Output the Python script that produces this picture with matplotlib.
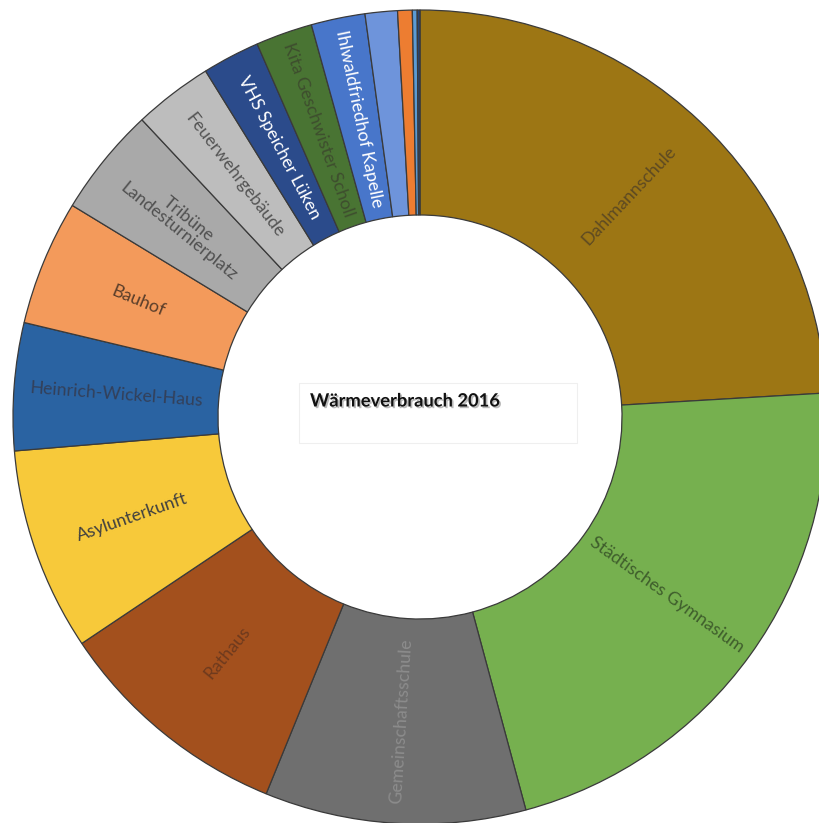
import matplotlib
matplotlib.use("Agg")
import matplotlib.pyplot as plt
import matplotlib.patheffects as pe
from matplotlib.patches import Rectangle
import numpy as np

# ---- data (shares of total heat consumption, in %) ----
categories = [
    "Dahlmannschule", "Städtisches Gymnasium", "Gemeinschaftsschule", "Rathaus",
    "Asylunterkunft", "Heinrich-Wickel-Haus", "Bauhof", "Tribüne\nLandesturnierplatz",
    "Feuerwehrgebäude", "VHS Speicher Lüken", "Kita Geschwister Scholl",
    "Ihlwaldfriedhof Kapelle", "", "", "", "",
]
values = [24.06, 21.75, 10.36, 9.44, 8.06, 5.06, 4.97, 4.33,
          3.14, 2.28, 2.25, 2.14, 1.28, 0.58, 0.19, 0.11]
colors = ["#9D7614", "#76B04F", "#6F6F6F", "#A3501D", "#F7C93A", "#2A63A2",
          "#F39A5B", "#A9A9A9", "#BDBDBD", "#2B4B8B", "#497433", "#4876CA",
          "#6E94DB", "#ED7D31", "#5B9BD5", "#264478"]
label_colors = ["#5E4A22", "#3F5E2C", "#8C8C8C", "#6E3A1E", "#404040", "#33405A",
                "#5A3E2A", "#505050", "#555555", "#FFFFFF", "#3E4E2E", "#FFFFFF",
                "#404040", "#404040", "#404040", "#404040"]
title = "Wärmeverbrauch 2016"

W, H = 820, 823
fig = plt.figure(figsize=(W / 100, H / 100), dpi=100)
ax = fig.add_axes([0, 0, 1, 1])

cx, cy = 420, H - 417
R_out, R_in = 407, 202

wedges, _ = ax.pie(values, colors=colors, startangle=90, counterclock=False,
                   radius=R_out, center=(cx, cy),
                   wedgeprops=dict(width=R_out - R_in, edgecolor="#3A3A3A", linewidth=0.9))

ax.set_xlim(0, W)
ax.set_ylim(0, H)
ax.set_aspect("equal")
ax.axis("off")

r_mid = (R_out + R_in) / 2
for w, lab, lc in zip(wedges, categories, label_colors):
    if not lab:
        continue
    ang = (w.theta1 + w.theta2) / 2
    x = cx + r_mid * np.cos(np.radians(ang))
    y = cy + r_mid * np.sin(np.radians(ang))
    rot = ((ang + 90) % 180) - 90
    ax.text(x, y, lab, rotation=rot, rotation_mode="anchor", ha="center", va="center",
            fontsize=12.8, color=lc, family="Lato", linespacing=1.0)

# title box
ax.add_patch(Rectangle((299, H - 443), 278, 60, facecolor="white",
                       edgecolor="#EFEFEF", linewidth=0.8, zorder=3))
ax.text(310, H - 401, title, ha="left", va="center", fontsize=13.2,
        fontweight="bold", family="Lato", color="#111111", zorder=4,
        path_effects=[pe.SimplePatchShadow(offset=(1.2, -1.2), shadow_rgbFace="#777777", alpha=0.5),
                      pe.Normal()])

fig.savefig("out.png", dpi=100)
